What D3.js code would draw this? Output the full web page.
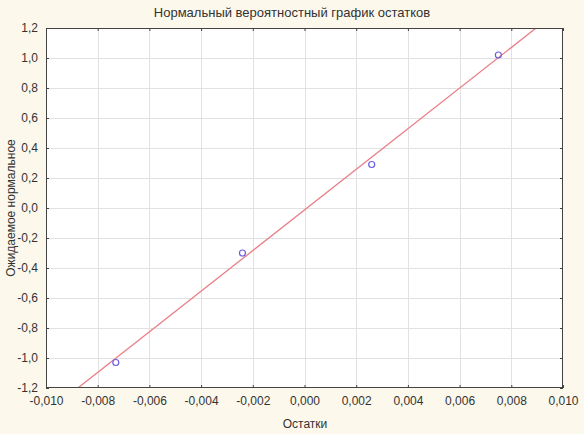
<!DOCTYPE html>
<html>
<head>
<meta charset="utf-8">
<script src="https://cdn.jsdelivr.net/npm/d3@7"></script>
<style>
  html, body { margin: 0; padding: 0; background: #fcf8ec; }
  svg { display: block; font-family: "Liberation Sans", Arial, sans-serif; }
</style>
</head>
<body>
<svg id="chart" width="584" height="434"></svg>
<script>
// residuals and their expected normal values
const residuals = [-0.0073, -0.0024, 0.0026, 0.0075];
const expected = [-1.03, -0.30, 0.29, 1.02];
// fitted reference line: expected = intercept + slope * residual
const lineIntercept = -0.013;
const lineSlope = 135.4;
const xTicks = [-0.010, -0.008, -0.006, -0.004, -0.002, 0.000, 0.002, 0.004, 0.006, 0.008, 0.010];
const yTicks = [-1.2, -1.0, -0.8, -0.6, -0.4, -0.2, 0.0, 0.2, 0.4, 0.6, 0.8, 1.0, 1.2];

const svg = d3.select('#chart');
const W = 584, H = 434;
const m = { left: 46, right: 21, top: 28, bottom: 46 };

const x = d3.scaleLinear().domain([-0.010, 0.010]).range([m.left, W - m.right]);
const y = d3.scaleLinear().domain([-1.2, 1.2]).range([H - m.bottom, m.top]);

const comma = f => v => d3.format(f)(v).replace('.', ',').replace('−', '-');
const fx = comma('.3f'), fy = comma('.1f');

svg.append('rect')
    .attr('x', m.left).attr('y', m.top)
    .attr('width', x.range()[1] - m.left).attr('height', y.range()[0] - m.top)
    .attr('fill', '#fff');

// grid
const grid = svg.append('g').attr('stroke', '#e2e2e2').attr('stroke-width', 1);
grid.selectAll('.gx').data(xTicks.slice(1, -1)).join('line')
    .attr('x1', d => Math.round(x(d)) + 0.5).attr('x2', d => Math.round(x(d)) + 0.5)
    .attr('y1', m.top).attr('y2', y.range()[0]);
grid.selectAll('.gy').data(yTicks.slice(1, -1)).join('line')
    .attr('y1', d => Math.round(y(d)) + 0.5).attr('y2', d => Math.round(y(d)) + 0.5)
    .attr('x1', m.left).attr('x2', x.range()[1]);

// clipped fit line
svg.append('clipPath').attr('id', 'clip').append('rect')
    .attr('x', m.left).attr('y', m.top)
    .attr('width', x.range()[1] - m.left).attr('height', y.range()[0] - m.top);

const lx = [-0.010, 0.010];
svg.append('path')
    .attr('clip-path', 'url(#clip)')
    .datum(lx.map(v => [v, lineIntercept + lineSlope * v]))
    .attr('d', d3.line().x(d => x(d[0])).y(d => y(d[1])))
    .attr('fill', 'none')
    .attr('stroke', '#e97f86')
    .attr('stroke-width', 1.3);

// points
svg.append('g').selectAll('circle')
    .data(residuals.map((r, i) => [r, expected[i]]))
    .join('circle')
    .attr('cx', d => x(d[0])).attr('cy', d => y(d[1]))
    .attr('r', 3)
    .attr('fill', 'none')
    .attr('stroke', '#6a5ee0')
    .attr('stroke-width', 1.2);

// axes with inward ticks
const tickLen = 3;
svg.append('g').attr('transform', `translate(0,${y.range()[0]})`)
    .call(d3.axisBottom(x).tickValues(xTicks).tickFormat(fx).tickSizeInner(-tickLen).tickSizeOuter(0).tickPadding(8));
svg.append('g').attr('transform', `translate(0,${m.top})`)
    .call(d3.axisTop(x).tickValues(xTicks).tickFormat('').tickSizeInner(-tickLen).tickSizeOuter(0));
svg.append('g').attr('transform', `translate(${m.left},0)`)
    .call(d3.axisLeft(y).tickValues(yTicks).tickFormat(fy).tickSizeInner(-tickLen).tickSizeOuter(0).tickPadding(8));
svg.append('g').attr('transform', `translate(${x.range()[1]},0)`)
    .call(d3.axisRight(y).tickValues(yTicks).tickFormat('').tickSizeInner(-tickLen).tickSizeOuter(0));

svg.selectAll('.domain').remove();
svg.selectAll('.tick line').attr('stroke', '#444');
svg.selectAll('.tick text').attr('fill', '#333').style('font-size', '12px');

svg.append('rect')
    .attr('x', m.left + 0.5).attr('y', m.top + 0.5)
    .attr('width', x.range()[1] - m.left - 1).attr('height', y.range()[0] - m.top - 1)
    .attr('fill', 'none').attr('stroke', '#444').attr('stroke-width', 1);

// titles
svg.append('text').attr('x', 292).attr('y', 17).attr('text-anchor', 'middle')
    .style('font-size', '13px').attr('fill', '#333')
    .text('Нормальный вероятностный график остатков');
svg.append('text').attr('x', 305).attr('y', 428).attr('text-anchor', 'middle')
    .style('font-size', '12px').attr('fill', '#333')
    .text('Остатки');
svg.append('text').attr('transform', `translate(11,${(m.top + y.range()[0]) / 2}) rotate(-90)`)
    .attr('text-anchor', 'middle').attr('dy', '0.35em')
    .style('font-size', '12px').attr('fill', '#333')
    .text('Ожидаемое нормальное');
</script>
</body>
</html>
